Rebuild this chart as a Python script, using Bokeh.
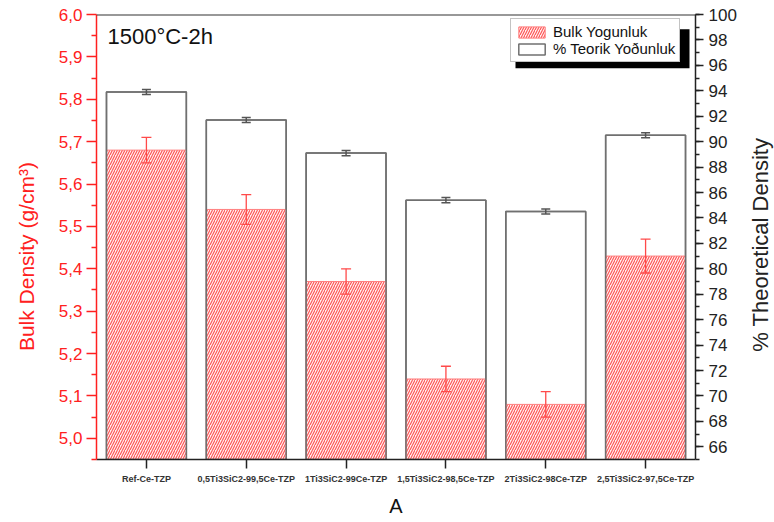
import math
from bokeh.plotting import figure
from bokeh.layouts import row
from bokeh.models import (FactorRange, Range1d, LinearAxis, FixedTicker, SingleIntervalTicker,
                          Whisker, TeeHead, ColumnDataSource, Legend, LegendItem, Label,
                          BoxAnnotation, Span, CustomJSTickFormatter)
from bokeh.embed import file_html
from bokeh.resources import INLINE

# ---- data ----
categories = ["Ref-Ce-TZP", "0,5Ti3SiC2-99,5Ce-TZP", "1Ti3SiC2-99Ce-TZP",
              "1,5Ti3SiC2-98,5Ce-TZP", "2Ti3SiC2-98Ce-TZP", "2,5Ti3SiC2-97,5Ce-TZP"]
bulk_density = [5.68, 5.54, 5.37, 5.14, 5.08, 5.43]
bulk_err = [0.03, 0.035, 0.03, 0.03, 0.03, 0.04]
theoretical_pct = [93.9, 91.7, 89.1, 85.4, 84.5, 90.5]
theoretical_err = [0.2, 0.2, 0.2, 0.2, 0.2, 0.2]
left_ticks = [5.0, 5.1, 5.2, 5.3, 5.4, 5.5, 5.6, 5.7, 5.8, 5.9, 6.0]
left_minor_ticks = [4.95, 5.05, 5.15, 5.25, 5.35, 5.45, 5.55, 5.65, 5.75, 5.85, 5.95]
bulk_range = (4.95, 6.0)
pct_range = (65, 100)
legend_labels = ["Bulk Yogunluk", "% Teorik Yoðunluk"]
annotation_text = "1500°C-2h"
x_title = "A"
left_title = "Bulk Density (g/cm³)"
right_title = "% Theoretical Density"

FONT = "Liberation Sans"
RED = "#ff2020"
H = 522

src = ColumnDataSource(dict(
    cat=categories,
    bulk=bulk_density,
    bulk_lo=[v - e for v, e in zip(bulk_density, bulk_err)],
    bulk_hi=[v + e for v, e in zip(bulk_density, bulk_err)],
    pct=theoretical_pct,
    pct_lo=[v - e for v, e in zip(theoretical_pct, theoretical_err)],
    pct_hi=[v + e for v, e in zip(theoretical_pct, theoretical_err)],
))


def title_panel(width, text, color, size, cx, cy):
    f = figure(width=width, height=H, x_range=Range1d(0, width), y_range=Range1d(0, H),
               x_axis_location=None, y_axis_location=None,
               output_backend="svg", toolbar_location=None,
               min_border_left=0, min_border_right=0, min_border_top=0, min_border_bottom=0)
    f.grid.visible = False
    f.outline_line_color = None
    f.background_fill_color = "white"
    f.border_fill_color = "white"
    f.add_layout(Label(x=cx, y=H - cy, text=text, angle=math.pi / 2,
                       text_align="center", text_baseline="middle", text_font=FONT,
                       text_font_size=size, text_color=color))
    return f


p = figure(x_range=FactorRange(*categories), y_range=Range1d(*bulk_range),
           width=700, height=H, output_backend="svg", toolbar_location=None,
           min_border_left=56, min_border_right=45, min_border_top=14, min_border_bottom=63)
p.extra_y_ranges = {"pct": Range1d(*pct_range)}
p.xgrid.visible = False
p.ygrid.visible = False
p.outline_line_color = None
p.background_fill_color = "white"
p.border_fill_color = "white"

r_pct = p.vbar(x="cat", top="pct", bottom=pct_range[0], width=0.8, y_range_name="pct",
               fill_color="white", line_color="#707070", line_width=1.5, source=src)
r_bulk = p.vbar(x="cat", top="bulk", bottom=bulk_range[0], width=0.8,
                fill_color="#fff0f0", line_color="#ff8080", line_width=1,
                hatch_pattern="/", hatch_color="#ff5050", hatch_scale=5, hatch_weight=1.1,
                source=src)
p.vbar(x="cat", top="pct", bottom=pct_range[0], width=0.8, y_range_name="pct",
       fill_color=None, line_color="#707070", line_width=1.5, source=src)

w1 = Whisker(base="cat", upper="bulk_hi", lower="bulk_lo", source=src, level="annotation",
             line_color="#ff4a4a", line_width=1.3,
             upper_head=TeeHead(size=10, line_color="#ff4a4a", line_width=1.3),
             lower_head=TeeHead(size=10, line_color="#ff4a4a", line_width=1.3))
w2 = Whisker(base="cat", upper="pct_hi", lower="pct_lo", source=src, y_range_name="pct",
             level="annotation", line_color="#555555", line_width=1.5,
             upper_head=TeeHead(size=9, line_color="#555555", line_width=1.5),
             lower_head=TeeHead(size=9, line_color="#555555", line_width=1.5))
p.add_layout(w1)
p.add_layout(w2)

# x axis
xa = p.xaxis[0]
xa.axis_label = x_title
xa.axis_label_text_font = FONT
xa.axis_label_text_font_size = "20px"
xa.axis_label_text_font_style = "normal"
xa.axis_label_text_color = "#111111"
xa.axis_label_standoff = 8
xa.major_label_text_font = FONT
xa.major_label_text_font_size = "9px"
xa.major_label_text_font_style = "bold"
xa.major_label_text_color = "#333333"
xa.major_label_standoff = 5
xa.major_tick_out = 9
xa.major_tick_in = 0
xa.major_tick_line_width = 1.5
xa.axis_line_width = 1.5
xa.axis_line_color = "#222222"
xa.major_tick_line_color = "#222222"

# left axis
ya = p.yaxis[0]
ya.ticker = FixedTicker(ticks=left_ticks, minor_ticks=left_minor_ticks)
ya.formatter = CustomJSTickFormatter(code="return tick.toFixed(1).replace('.', ',');")
ya.major_label_text_font = FONT
ya.major_label_text_font_size = "17px"
ya.major_label_text_color = RED
ya.major_label_standoff = 4
ya.axis_line_color = RED
ya.axis_line_width = 1.5
ya.major_tick_line_color = RED
ya.minor_tick_line_color = RED
ya.major_tick_line_width = 1.5
ya.minor_tick_line_width = 1.5
ya.major_tick_out = 10
ya.major_tick_in = 0
ya.minor_tick_out = 5
ya.minor_tick_in = 0

# right axis
ra = LinearAxis(y_range_name="pct", ticker=SingleIntervalTicker(interval=2, num_minor_ticks=2))
ra.major_label_text_font = FONT
ra.major_label_text_font_size = "17px"
ra.major_label_text_color = "#222222"
ra.major_label_standoff = 5
ra.axis_line_color = "#222222"
ra.axis_line_width = 1.5
ra.major_tick_line_color = "#222222"
ra.minor_tick_line_color = "#222222"
ra.major_tick_line_width = 1.5
ra.minor_tick_line_width = 1.5
ra.major_tick_out = 8
ra.major_tick_in = 0
ra.minor_tick_out = 4
ra.minor_tick_in = 0
p.add_layout(ra, "right")

# top frame line
p.add_layout(Span(location=bulk_range[1], dimension="width", line_color="#333333", line_width=2))

# annotation text
p.add_layout(Label(x=0.11, y=5.949, text=annotation_text, text_font=FONT,
                   text_font_size="22px", text_baseline="middle", text_color="#111111"))

# legend with shadow
p.add_layout(BoxAnnotation(left=4.197, right=5.94, top=5.9653, bottom=5.8733,
                           fill_color="black", fill_alpha=1, line_color=None))
legend = Legend(items=[LegendItem(label=legend_labels[0], renderers=[r_bulk]),
                       LegendItem(label=legend_labels[1], renderers=[r_pct])],
                location=(414, 397), orientation="vertical",
                padding=4, spacing=0, margin=0,
                glyph_width=33, glyph_height=14, label_height=14,
                label_standoff=5, label_text_font=FONT, label_text_font_size="15px",
                label_text_color="#111111",
                border_line_color="#888888", border_line_width=1,
                background_fill_color="white", background_fill_alpha=1)
p.add_layout(legend)

left_panel = title_panel(40, left_title, RED, "21px", 26, 284)
right_panel = title_panel(34, right_title, "#222222", "22px", 20, 270)

layout = row(left_panel, p, right_panel, spacing=0)
open("out.html", "w").write(file_html(layout, INLINE))
